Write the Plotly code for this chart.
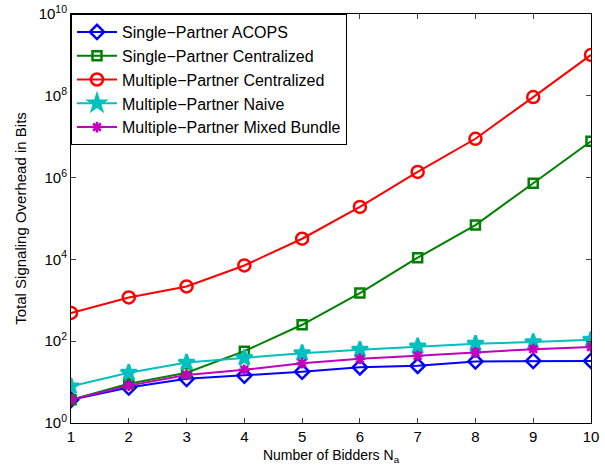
import plotly.graph_objects as go

bidders = [1, 2, 3, 4, 5, 6, 7, 8, 9, 10]
sp_acops = [3.7, 7.4, 12, 14.4, 18, 23, 25, 32, 33, 33]
sp_central = [3.7, 9.1, 17, 57, 252, 1500, 11000, 69000, 730000, 7.7e6]
mp_central = [490, 1175, 2180, 7100, 32000, 192000, 1.38e6, 8.9e6, 9.3e7, 1.0e9]
mp_naive = [7.9, 17, 30, 39, 51, 62, 75, 87, 95, 109]
mp_mixed = [3.7, 8.2, 15, 20, 29, 37, 44, 53, 64, 72]

series = [
    ("Single\u2212Partner ACOPS", sp_acops, "#0000ff", "diamond-open", 11),
    ("Single\u2212Partner Centralized", sp_central, "#008000", "square-open", 9),
    ("Multiple\u2212Partner Centralized", mp_central, "#ff0000", "circle-open", 12),
    ("Multiple\u2212Partner Naive", mp_naive, "#00bfbf", "star", 12),
    ("Multiple\u2212Partner Mixed Bundle", mp_mixed, "#bf00bf", "asterisk-open", 9),
]

fig = go.Figure()
for name, vals, col, sym, sz in series:
    fig.add_trace(go.Scatter(
        x=bidders, y=vals, name=name, mode="lines+markers",
        line=dict(color=col, width=2),
        marker=dict(symbol=sym, size=sz, color=col, line=dict(color=col, width=2.5)),
    ))

yvals = [1, 1e2, 1e4, 1e6, 1e8, 1e10]
ytext = ["10<sup>0</sup>", "10<sup>2</sup>", "10<sup>4</sup>", "10<sup>6</sup>", "10<sup>8</sup>", "10<sup>10</sup>"]

fig.update_layout(
    width=605, height=467,
    paper_bgcolor="white", plot_bgcolor="white",
    margin=dict(l=71, r=14, t=14, b=44),
    font=dict(family="Liberation Sans, Arial, sans-serif", size=13, color="black"),
    showlegend=True,
    legend=dict(
        x=0.0, y=1.0, xanchor="left", yanchor="top",
        bgcolor="white", bordercolor="black", borderwidth=1,
        font=dict(size=16), itemwidth=40,
        tracegroupgap=0,
    ),
    xaxis=dict(
        range=[1, 10], tickvals=bidders, ticks="inside", ticklen=5,
        showline=True, linecolor="black", linewidth=1, mirror="ticks",
        showgrid=False, zeroline=False, tickfont=dict(size=15),
        automargin=False,
        title=dict(text="Number of Bidders N<sub>a</sub>", font=dict(size=14), standoff=6),
    ),
    yaxis=dict(
        type="log", range=[0, 10], tickvals=yvals, ticktext=ytext,
        ticks="inside", ticklen=5,
        showline=True, linecolor="black", linewidth=1, mirror="ticks",
        showgrid=False, zeroline=False, tickfont=dict(size=15),
        automargin=False,
        title=dict(text="Total Signaling Overhead in Bits", font=dict(size=15), standoff=8),
    ),
)

fig.write_html(
    "out.html",
    config={"displayModeBar": False},
    post_script="document.body.style.margin='0';document.body.style.overflow='hidden';",
)
